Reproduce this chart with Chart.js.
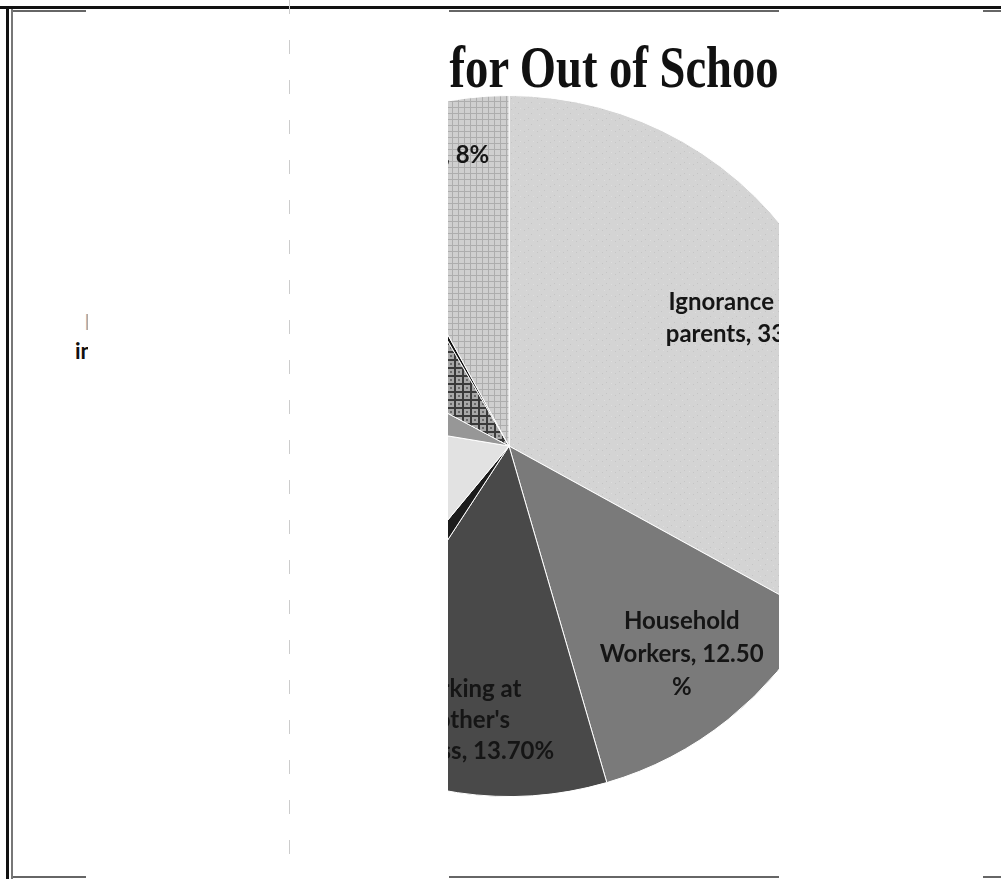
<!DOCTYPE html>
<html>
<head>
<meta charset="utf-8">
<script src="https://cdn.jsdelivr.net/npm/chart.js@4.4.1/dist/chart.umd.min.js"></script>
<style>
  html, body { margin: 0; padding: 0; background: #fff; }
  body { width: 1001px; height: 879px; position: relative; overflow: hidden; font-family: Lato, sans-serif; }
  .ln { position: absolute; }
  #pieClip { position: absolute; left: 448px; top: 0; width: 331px; height: 879px; overflow: hidden; }
  #pieBox { position: absolute; left: -290px; top: 95px; width: 702px; height: 702px; }
  #title { position: absolute; top: 33px; white-space: nowrap; transform-origin: 0 0;
           font-family: "Liberation Serif", serif; font-weight: bold; font-size: 60px; color: #111; }
  .frag { position: absolute; overflow: hidden; white-space: nowrap; font-weight: bold; font-family: Lato, sans-serif; }
</style>
</head>
<body>
<!-- frame -->
<div class="ln" style="left:0;top:6px;width:1001px;height:3px;background:#111"></div>
<div class="ln" style="left:6px;top:6px;width:3px;height:873px;background:#111"></div>
<div class="ln" style="left:11px;top:9px;width:2px;height:870px;background:#777"></div>
<div class="ln" style="left:13px;top:10px;width:73px;height:2px;background:#666"></div>
<div class="ln" style="left:449px;top:10px;width:330px;height:2px;background:#666"></div>
<div class="ln" style="left:983px;top:10px;width:18px;height:2px;background:#666"></div>
<div class="ln" style="left:13px;top:876px;width:73px;height:2px;background:#666"></div>
<div class="ln" style="left:449px;top:876px;width:330px;height:2px;background:#666"></div>
<div class="ln" style="left:983px;top:876px;width:18px;height:2px;background:#666"></div>
<div class="ln" style="left:289px;top:0;width:1px;height:879px;background:repeating-linear-gradient(#ccc 0 14px, #fff 14px 40px)"></div>

<!-- label fragments left of the gap -->
<div class="frag" style="left:85px;top:310px;width:3px;height:26px;font-size:20px;color:#aaa;">l</div>
<div class="frag" style="left:75px;top:337px;width:13px;height:30px;font-size:22px;color:#111;">in</div>

<div id="pieClip">
  <div id="title"><span id="tPre">Reasons </span><span id="tMid">for Out of Schoo</span><span>l Children</span></div>
  <div id="pieBox"><canvas id="pie"></canvas></div>
</div>

<script>
// slice data, clockwise from 12 o'clock
const categories = ['Ignorance of parents', 'Household Workers', "Working at brother's business",
                    'Illness', 'Lack of interest', 'Distance of school', 'Poverty', 'Others', 'Migration'];
const percentages = [33, 12.5, 13.7, 1.8, 16.6, 5.2, 8.8, 0.4, 8];
const labelLines = [
    ['Ignorance of', 'parents, 33%'],
    ['Household', 'Workers, 12.50', '%'],
    ['Working at', "brother's", 'business, 13.70%'],
    ['Illness, 1.80%'],
    ['Lack of interest, 16.60%'],
    ['Distance of', 'school, 5.20%'],
    ['Poverty, 8.80%'],
    ['Others, 0.40%'],
    ['Migration, 8%']
];

function makePattern(w, h, draw) {
    const c = document.createElement('canvas');
    c.width = w; c.height = h;
    draw(c.getContext('2d'));
    return c.getContext('2d').createPattern(c, 'repeat');
}

const speckle = makePattern(13, 11, g => {
    g.fillStyle = '#d4d4d4'; g.fillRect(0, 0, 13, 11);
    g.fillStyle = '#c4c4c4'; g.fillRect(2, 3, 1, 1); g.fillRect(9, 7, 1, 1); g.fillRect(6, 1, 1, 1);
    g.fillStyle = '#dedede'; g.fillRect(11, 2, 1, 1); g.fillRect(4, 8, 1, 1);
});
const lightGrid = makePattern(6, 6, g => {
    g.fillStyle = '#cfcfcf'; g.fillRect(0, 0, 6, 6);
    g.fillStyle = '#adadad'; g.fillRect(0, 0, 6, 1); g.fillRect(0, 0, 1, 6);
});
const darkGrid = makePattern(8, 8, g => {
    g.fillStyle = '#a8a8a8'; g.fillRect(0, 0, 8, 8);
    g.fillStyle = '#3a3a3a'; g.fillRect(0, 0, 8, 2); g.fillRect(0, 0, 2, 8);
    g.fillStyle = '#6a6a6a'; g.fillRect(4, 4, 2, 2);
});

const sliceColors = [speckle, '#7a7a7a', '#494949', '#1c1c1c', '#e2e2e2', '#979797', darkGrid, '#111111', lightGrid];
// label placement: fraction of radius along the slice's mid angle, plus a small nudge
const labelRadius = [0.75, 0.77, 0.79, 1.2, 0.76, 1.2, 0.76, 1.2, 0.88];
const labelNudge = [[0, 6], [4, -2], [-6, 0], [0, 0], [0, 0], [0, 0], [0, 0], [0, 0], [-18, 8]];
const lineHeights = [32, 33, 31, 32, 32, 32, 32, 32, 32];

const sliceLabels = {
    id: 'sliceLabels',
    afterDatasetsDraw(chart) {
        const ctx = chart.ctx;
        const arcs = chart.getDatasetMeta(0).data;
        ctx.save();
        ctx.font = 'bold 24px Lato, sans-serif';
        ctx.fillStyle = '#151515';
        ctx.textAlign = 'center';
        ctx.textBaseline = 'middle';
        arcs.forEach((arc, i) => {
            const p = arc.getProps(['x', 'y', 'startAngle', 'endAngle', 'outerRadius'], true);
            const mid = (p.startAngle + p.endAngle) / 2;
            const r = p.outerRadius * labelRadius[i];
            const cx = p.x + Math.cos(mid) * r + labelNudge[i][0];
            const cy = p.y + Math.sin(mid) * r + labelNudge[i][1];
            const lines = labelLines[i];
            const lh = lineHeights[i];
            lines.forEach((t, k) => {
                ctx.fillText(t, cx, cy + (k - (lines.length - 1) / 2) * lh);
            });
        });
        ctx.restore();
    }
};

function placeTitle() {
    const title = document.getElementById('title');
    const pre = document.getElementById('tPre').offsetWidth;
    const mid = document.getElementById('tMid').offsetWidth;
    const s = 329 / mid;
    title.style.transform = 'scaleX(' + s + ')';
    title.style.left = (2 - pre * s) + 'px';
}

document.addEventListener('DOMContentLoaded', function() {
    placeTitle();
    new Chart(document.getElementById('pie').getContext('2d'), {
        type: 'pie',
        data: {
            labels: categories,
            datasets: [{
                data: percentages,
                backgroundColor: sliceColors,
                borderColor: '#ffffff',
                borderWidth: 1
            }]
        },
        options: {
            responsive: true,
            maintainAspectRatio: false,
            animation: false,
            layout: { padding: 0 },
            plugins: {
                legend: { display: false },
                tooltip: { enabled: false }
            }
        },
        plugins: [sliceLabels]
    });
});
</script>
</body>
</html>
